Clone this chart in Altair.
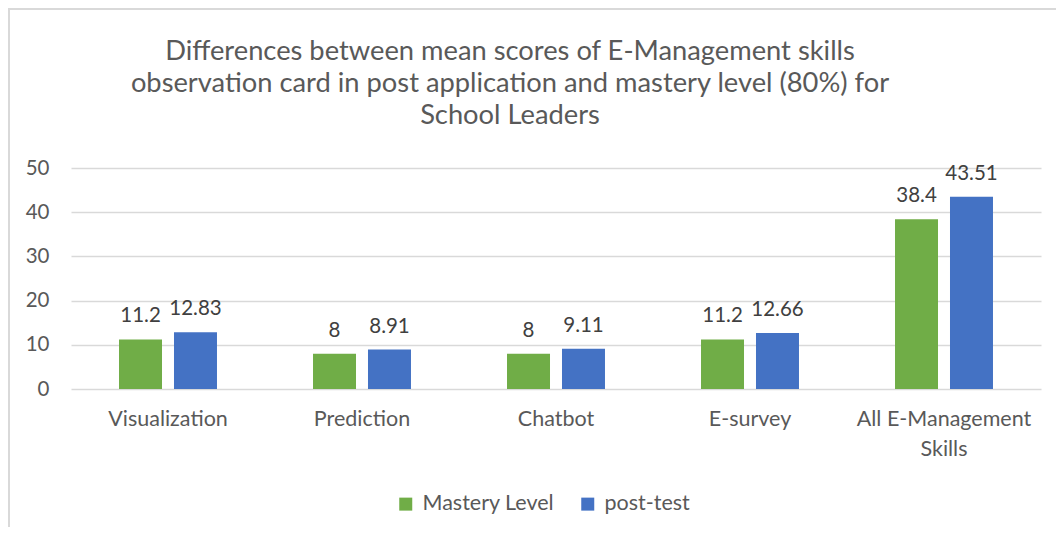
import altair as alt
import pandas as pd

categories = ["Visualization", "Prediction", "Chatbot", "E-survey", "All E-Management Skills"]
mastery = [11.2, 8, 8, 11.2, 38.4]
post_test = [12.83, 8.91, 9.11, 12.66, 43.51]
series_names = ["Mastery Level", "post-test"]
series_colors = ["#70AD47", "#4472C4"]
title_lines = [
    "Differences between mean scores of E-Management skills",
    "observation card in post application and mastery level (80%) for",
    "School Leaders",
]

rows = []
for c, m, p in zip(categories, mastery, post_test):
    rows.append({"category": c, "series": series_names[0], "value": m})
    rows.append({"category": c, "series": series_names[1], "value": p})
df = pd.DataFrame(rows)

FONT = "Lato"
TXT = "#595959"

x = alt.X(
    "category:N",
    sort=categories,
    scale=alt.Scale(paddingInner=0.495, paddingOuter=0.2475),
    axis=alt.Axis(
        title=None,
        labelAngle=0,
        labelFontSize=21.5,
        labelColor=TXT,
        labelFont=FONT,
        labelPadding=19,
        labelLineHeight=30,
        labelExpr="datum.label == 'All E-Management Skills' ? ['All E-Management', 'Skills'] : datum.label",
        ticks=False,
        domain=False,
        grid=False,
    ),
)
xo = alt.XOffset("series:N", sort=series_names, scale=alt.Scale(paddingInner=0.218))
y = alt.Y(
    "value:Q",
    scale=alt.Scale(domain=[0, 50]),
    axis=alt.Axis(
        title=None,
        values=[0, 10, 20, 30, 40, 50],
        labelFontSize=20.5,
        labelColor=TXT,
        labelFont=FONT,
        labelPadding=22,
        ticks=False,
        domain=False,
        gridColor="#D9D9D9",
        gridWidth=1.3,
    ),
)

base = alt.Chart(df)
bars = base.mark_bar().encode(
    x=x,
    xOffset=xo,
    y=y,
    color=alt.Color(
        "series:N",
        sort=series_names,
        scale=alt.Scale(domain=series_names, range=series_colors),
        legend=alt.Legend(
            title=None,
            orient="none",
            legendX=324,
            legendY=325,
            direction="horizontal",
            symbolType="square",
            symbolSize=169,
            symbolStrokeWidth=0,
            labelFontSize=21.5,
            labelFont=FONT,
            labelColor=TXT,
            labelOffset=6,
            columnPadding=22,
        ),
    ),
)
labels = base.mark_text(
    fontSize=20.5, font=FONT, color="#404040", baseline="alphabetic", dy=-17
).encode(x=x, xOffset=xo, y=y, text=alt.Text("value:Q"))

frame_data = alt.Data(values=[{}])
frame_top = alt.Chart(frame_data).mark_rule(color="#D9D9D9", strokeWidth=2).encode(
    x=alt.value(-63), x2=alt.value(1000), y=alt.value(-159)
)
frame_left = alt.Chart(frame_data).mark_rule(color="#D9D9D9", strokeWidth=2).encode(
    x=alt.value(-62), y=alt.value(-160), y2=alt.value(360)
)

chart = (
    alt.layer(frame_top, frame_left, bars, labels)
    .properties(
        width=970,
        height=221,
        autosize=alt.AutoSizeParams(type="none"),
        padding={"left": 63, "top": 160, "right": 15, "bottom": 138},
        title=alt.Title(
            title_lines,
            fontSize=27.3,
            font=FONT,
            fontWeight="normal",
            color=TXT,
            anchor="middle",
            dx=-46,
            offset=31,
            dy=153,
            lineHeight=31.8,
        ),
    )
    .configure_view(stroke=None)
)

chart.save("out.html", embed_options={"renderer": "svg", "actions": False})
